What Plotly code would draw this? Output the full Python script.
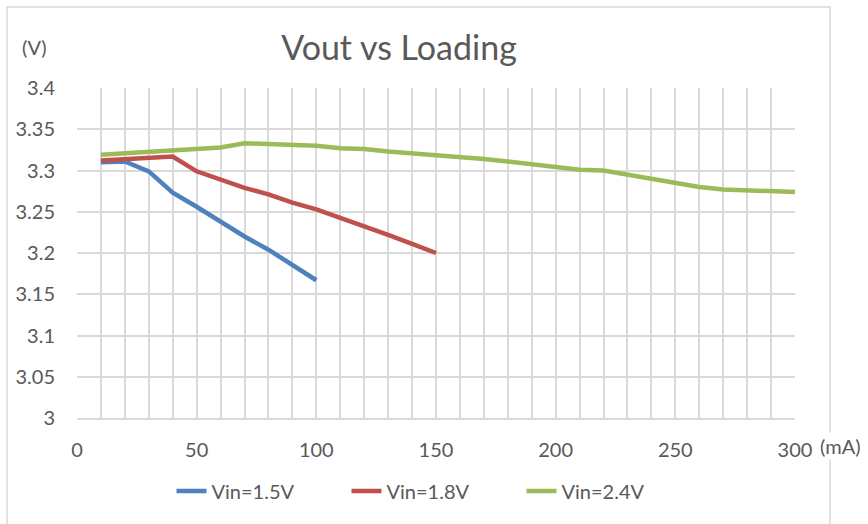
import plotly.graph_objects as go

load_15 = [10, 20, 30, 40, 50, 60, 70, 80, 90, 100]
vout_15 = [3.310, 3.311, 3.299, 3.273, 3.256, 3.238, 3.220, 3.204, 3.186, 3.167]

load_18 = [10, 20, 30, 40, 50, 60, 70, 80, 90, 100, 110, 120, 130, 140, 150]
vout_18 = [3.312, 3.314, 3.315, 3.317, 3.299, 3.289, 3.279, 3.271, 3.261, 3.253,
           3.243, 3.233, 3.222, 3.211, 3.200]

load_24 = [10, 20, 30, 40, 50, 60, 70, 80, 90, 100, 110, 120, 130, 140, 150,
           160, 170, 180, 190, 200, 210, 220, 230, 240, 250, 260, 270, 280, 290, 300]
vout_24 = [3.319, 3.321, 3.323, 3.324, 3.326, 3.328, 3.333, 3.332, 3.331, 3.330,
           3.327, 3.326, 3.323, 3.321, 3.319, 3.316, 3.314, 3.311, 3.308, 3.305,
           3.301, 3.300, 3.295, 3.290, 3.284, 3.280, 3.277, 3.276, 3.275, 3.274]

series_names = ["Vin=1.5V", "Vin=1.8V", "Vin=2.4V"]
colors = ["#4F81BD", "#C0504D", "#9BBB59"]

font = "Lato, 'Liberation Sans', sans-serif"
txt = "#595959"
grid = "#D9D9D9"

W, H = 868, 524
L, R, T, B = 77, 73, 88, 106
pw, ph = W - L - R, H - T - B

fig = go.Figure()
for xs, ys, name, c in zip([load_15, load_18, load_24], [vout_15, vout_18, vout_24],
                           series_names, colors):
    fig.add_trace(go.Scatter(x=xs, y=ys, name=name, mode="lines",
                             line=dict(color=c, width=4.5)))

fig.update_layout(
    width=W, height=H,
    margin=dict(l=L, r=R, t=T, b=B, autoexpand=False),
    paper_bgcolor="white", plot_bgcolor="white",
    font=dict(family=font, color=txt, size=20),
    title=dict(text="Vout vs Loading", x=399 / W, xref="container", xanchor="center",
               y=1 - 48 / H, yref="container", yanchor="middle",
               font=dict(size=34, color=txt, family=font)),
    showlegend=True,
    legend=dict(orientation="h", x=434 / W, xref="container", xanchor="center",
                y=(H - 491) / H, yref="container", yanchor="middle",
                font=dict(size=20, color=txt, family=font),
                entrywidth=130, entrywidthmode="pixels"),
    xaxis=dict(range=[0, 300], dtick=50, tick0=0, showgrid=True, gridcolor=grid,
               gridwidth=1.5, zeroline=False, showline=True, linecolor=grid,
               linewidth=1.5, ticks="", ticklabelstandoff=13,
               minor=dict(dtick=10, showgrid=True, gridcolor=grid, gridwidth=1.5),
               tickfont=dict(size=20, color=txt)),
    yaxis=dict(range=[3, 3.4], dtick=0.05, tick0=3, showgrid=True, gridcolor=grid,
               gridwidth=1.5, zeroline=False, showline=False, ticks="",
               ticklabelstandoff=21, tickformat="~g",
               tickfont=dict(size=20, color=txt)),
)

# outer chart border
fig.add_shape(type="rect", xref="paper", yref="paper",
              x0=(7 - L) / pw, x1=(830 - L) / pw,
              y0=(418 - 540) / ph, y1=(418 - 7) / ph,
              line=dict(color=grid, width=1.5), fillcolor="rgba(0,0,0,0)", layer="below")

fig.add_annotation(text="(V)", xref="paper", yref="paper",
                   x=(34 - L) / pw, y=(418 - 47) / ph, showarrow=False,
                   xanchor="center", yanchor="middle",
                   font=dict(size=20, color=txt, family=font))
fig.add_annotation(text="(mA)", xref="paper", yref="paper",
                   x=(840 - L) / pw, y=(418 - 446) / ph, showarrow=False,
                   xanchor="center", yanchor="middle",
                   bgcolor="white", font=dict(size=20, color=txt, family=font))

fig.write_html("out.html", config={"displayModeBar": False},
               post_script="document.body.style.margin='0px';")
